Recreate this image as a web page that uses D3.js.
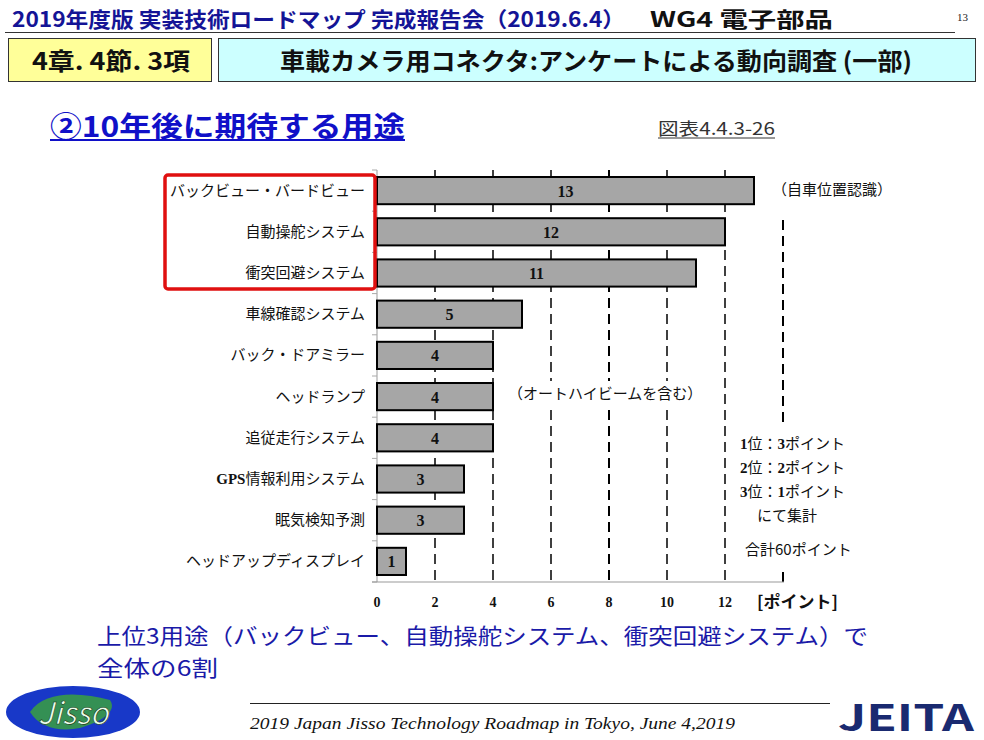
<!DOCTYPE html>
<html><head><meta charset="utf-8">
<script src="https://cdn.jsdelivr.net/npm/d3@7"></script>
<style>
body{margin:0;background:#fff;}
svg{display:block;}
text{font-family:"Noto Sans CJK JP","Noto Sans",sans-serif;}
.serif{font-family:"Liberation Serif","DejaVu Serif",serif;}
</style></head><body>
<svg id="c" width="984" height="740"></svg>
<script>
const categories = ["バックビュー・バードビュー","自動操舵システム","衝突回避システム","車線確認システム","バック・ドアミラー","ヘッドランプ","追従走行システム","GPS情報利用システム","眠気検知予測","ヘッドアップディスプレイ"];
const values = [13,12,11,5,4,4,4,3,3,1];
const tickValues = [0,2,4,6,8,10,12];
const gridValues = [2,4,6,8,10,12,14];
const scoringNotes = ["1位：3ポイント","2位：2ポイント","3位：1ポイント"];

const svg = d3.select("#c");
const navy = "#141496";

// Header
svg.append("text").attr("x",12).attr("y",27).attr("font-size",21).attr("font-weight","bold").attr("fill",navy)
  .attr("textLength",613).attr("lengthAdjust","spacingAndGlyphs").text("2019年度版 実装技術ロードマップ 完成報告会（2019.6.4）");
svg.append("text").attr("x",650).attr("y",27).attr("font-size",21).attr("font-weight","bold").attr("fill","#111")
  .attr("textLength",183).attr("lengthAdjust","spacingAndGlyphs").text("WG4 電子部品");
svg.append("text").attr("x",957).attr("y",21).attr("font-size",11).attr("class","serif").attr("fill","#222").text("13");
svg.append("line").attr("x1",5).attr("x2",955).attr("y1",32.5).attr("y2",32.5).attr("stroke","#333").attr("stroke-width",1);

// Section boxes
svg.append("rect").attr("x",8.5).attr("y",38.5).attr("width",203).attr("height",43).attr("fill","#ffff99").attr("stroke","#333").attr("stroke-width",1);
svg.append("text").attr("x",32).attr("y",70).attr("font-size",24).attr("font-weight","bold").attr("fill","#111")
  .attr("textLength",158).attr("lengthAdjust","spacingAndGlyphs").text("4章. 4節. 3項");
svg.append("rect").attr("x",218.5).attr("y",38.5).attr("width",757).attr("height",43).attr("fill","#ccffff").attr("stroke","#333").attr("stroke-width",1);
svg.append("text").attr("x",280).attr("y",70).attr("font-size",24).attr("font-weight","bold").attr("fill","#111")
  .attr("textLength",632).attr("lengthAdjust","spacingAndGlyphs").text("車載カメラ用コネクタ:アンケートによる動向調査 (一部)");

// Subtitle
svg.append("text").attr("x",50).attr("y",137).attr("font-size",28).attr("font-weight","bold").attr("fill","#1010c8")
  .attr("textLength",355).attr("lengthAdjust","spacingAndGlyphs").text("②10年後に期待する用途");
svg.append("line").attr("x1",50).attr("x2",405).attr("y1",140).attr("y2",140).attr("stroke","#1010c8").attr("stroke-width",2);
svg.append("text").attr("x",658).attr("y",135).attr("font-size",17).attr("fill","#333")
  .attr("textLength",117).attr("lengthAdjust","spacingAndGlyphs").text("図表4.4.3-26");
svg.append("line").attr("x1",658).attr("x2",775).attr("y1",138).attr("y2",138).attr("stroke","#333").attr("stroke-width",1);

// Chart
const x = d3.scaleLinear().domain([0,14]).range([377,783]);
const y = d3.scaleBand().domain(categories).range([170,582]).paddingInner(0.34).paddingOuter(0.17);
const bandStep = y.step();

// grid lines (dashed)
svg.append("g").selectAll("line").data(gridValues).join("line")
  .attr("x1",d=>x(d)).attr("x2",d=>x(d))
  .attr("y1",d=>d===14?220:170).attr("y2",582)
  .attr("stroke","#000").attr("stroke-width",d=>(d===8||d===14)?2:1.5)
  .attr("stroke-dasharray","10,6");

// y axis line and ticks
svg.append("line").attr("x1",377).attr("x2",377).attr("y1",170).attr("y2",582).attr("stroke","#999").attr("stroke-width",1);
svg.append("g").selectAll("line").data(d3.range(categories.length+1)).join("line")
  .attr("x1",372).attr("x2",377)
  .attr("y1",i=>170+i*bandStep).attr("y2",i=>170+i*bandStep)
  .attr("stroke","#aaa");
// x axis line
svg.append("line").attr("x1",372).attr("x2",784).attr("y1",582).attr("y2",582).attr("stroke","#999").attr("stroke-width",1);

// bars
svg.append("g").selectAll("rect").data(values).join("rect")
  .attr("x",x(0)).attr("y",(d,i)=>y(categories[i]))
  .attr("width",d=>x(d)-x(0)).attr("height",y.bandwidth())
  .attr("fill","#a6a6a6").attr("stroke","#000").attr("stroke-width",2);
svg.append("g").selectAll("text").data(values).join("text")
  .attr("class","serif").attr("x",d=>(x(0)+x(d))/2).attr("y",(d,i)=>y(categories[i])+y.bandwidth()/2+6)
  .attr("text-anchor","middle").attr("font-size",16).attr("font-weight","bold").attr("fill","#111").text(d=>d);

// category labels
const lab = svg.append("g").selectAll("text").data(categories).join("text")
  .attr("x",365).attr("y",d=>y(d)+y.bandwidth()/2+5)
  .attr("text-anchor","end").attr("font-size",15).attr("fill","#111");
lab.each(function(d){
  const t = d3.select(this);
  if(d.startsWith("GPS")){
    t.append("tspan").attr("class","serif").attr("font-weight","bold").text("GPS");
    t.append("tspan").text(d.slice(3));
  } else t.text(d);
});

// x tick labels
svg.append("g").selectAll("text").data(tickValues).join("text")
  .attr("class","serif").attr("x",d=>x(d)).attr("y",607).attr("text-anchor","middle")
  .attr("font-size",14).attr("font-weight","bold").attr("fill","#111").text(d=>d);
svg.append("text").attr("x",757).attr("y",608).attr("font-size",17).attr("font-weight","bold").attr("fill","#111").text("[ポイント]");

// red highlight box
svg.append("rect").attr("x",165).attr("y",175).attr("width",210).attr("height",114).attr("rx",3)
  .attr("fill","none").attr("stroke","#e01010").attr("stroke-width",3.5);

// annotations (with white backgrounds hiding grid lines)
svg.append("rect").attr("x",510).attr("y",381).attr("width",192).attr("height",26).attr("fill","#fff");
svg.append("rect").attr("x",737).attr("y",428).attr("width",118).attr("height",144).attr("fill","#fff");
svg.append("text").attr("x",772).attr("y",195).attr("font-size",15).attr("fill","#111").text("（自車位置認識）");
svg.append("text").attr("x",508).attr("y",399).attr("font-size",15).attr("fill","#111").text("（オートハイビームを含む）");
const notes = svg.append("g").selectAll("text").data(scoringNotes).join("text")
  .attr("x",740).attr("y",(d,i)=>449+i*24).attr("font-size",15).attr("fill","#111");
notes.each(function(d){
  const t=d3.select(this);
  t.append("tspan").attr("class","serif").attr("font-weight","bold").text(d[0]);
  t.append("tspan").text(d.slice(1,3));
  t.append("tspan").attr("class","serif").attr("font-weight","bold").text(d[3]);
  t.append("tspan").text(d.slice(4));
});
svg.append("text").attr("x",757).attr("y",521).attr("font-size",15).attr("fill","#111").text("にて集計");
svg.append("text").attr("x",745).attr("y",555).attr("font-size",15).attr("fill","#111").text("合計60ポイント");

// conclusion
svg.append("text").attr("x",97).attr("y",644).attr("font-size",22).attr("fill","#1a1aa8")
  .attr("textLength",771).attr("lengthAdjust","spacingAndGlyphs").text("上位3用途（バックビュー、自動操舵システム、衝突回避システム）で");
svg.append("text").attr("x",97).attr("y",676).attr("font-size",22).attr("fill","#1a1aa8")
  .attr("textLength",121).attr("lengthAdjust","spacingAndGlyphs").text("全体の6割");

// footer
svg.append("ellipse").attr("cx",73).attr("cy",712).attr("rx",67).attr("ry",26).attr("fill","#1838c8");
svg.append("path").attr("d","M30,712 C45,690 80,692 110,700 C118,712 100,722 80,728 C60,732 40,728 30,712Z").attr("fill","#3aa040").attr("opacity",0.85);
svg.append("text").attr("x",73).attr("y",724).attr("text-anchor","middle").attr("font-size",30).attr("font-style","italic")
  .attr("font-family","DejaVu Serif,serif").attr("fill","#eaffea").attr("stroke","#113311").attr("stroke-width",0.6).text("Jisso");
svg.append("line").attr("x1",250).attr("x2",830).attr("y1",703.5).attr("y2",703.5).attr("stroke","#222").attr("stroke-width",1);
svg.append("text").attr("x",250).attr("y",729).attr("font-size",17).attr("font-style","italic").attr("class","serif")
  .attr("fill","#111").attr("textLength",485).attr("lengthAdjust","spacingAndGlyphs").text("2019 Japan Jisso Technology Roadmap  in Tokyo, June 4,2019");
svg.append("text").attr("x",838).attr("y",731).attr("font-size",36).attr("font-weight","bold")
  .attr("font-family","Liberation Sans,Arial,sans-serif").attr("fill","#1a2a70")
  .attr("textLength",136).attr("lengthAdjust","spacingAndGlyphs").text("JEITA");
</script>
</body></html>
